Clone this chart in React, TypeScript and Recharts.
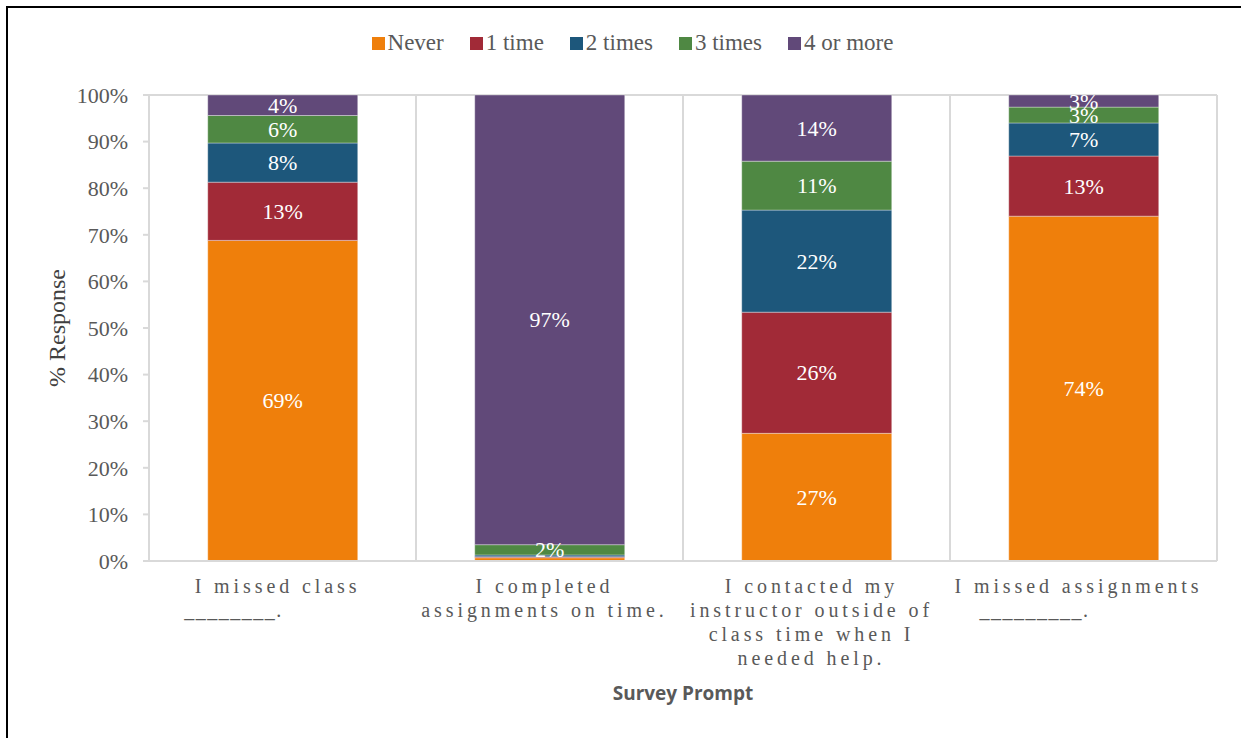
import React from "react";
import {
  BarChart,
  Bar,
  XAxis,
  YAxis,
  CartesianGrid,
  Legend,
  LabelList,
  Label,
} from "recharts";

// survey prompts (line breaks as drawn under the axis)
const prompts = [
  "I missed class\n________.",
  "I completed\nassignments on time.",
  "I contacted my\ninstructor outside of\nclass time when I\nneeded help.",
  "I missed assignments\n_________.",
];

// % response per answer, one value per prompt
const never = [68.8, 0.7, 27.4, 74.0];
const oneTime = [12.5, 0.2, 26.0, 12.9];
const twoTimes = [8.4, 0.4, 21.9, 7.1];
const threeTimes = [5.9, 2.2, 10.5, 3.4];
const fourOrMore = [4.4, 96.5, 14.2, 2.6];

const yTicks = [0, 10, 20, 30, 40, 50, 60, 70, 80, 90, 100];

const series = [
  { key: "never", name: "Never", color: "#EF7F0B", values: never },
  { key: "one", name: "1 time", color: "#A12A37", values: oneTime },
  { key: "two", name: "2 times", color: "#1D577B", values: twoTimes },
  { key: "three", name: "3 times", color: "#4F8843", values: threeTimes },
  { key: "four", name: "4 or more", color: "#614979", values: fourOrMore },
];

const data = prompts.map((p, i) => {
  const row: any = { prompt: p };
  series.forEach((s) => (row[s.key] = s.values[i]));
  return row;
});

const SERIF = "'Liberation Serif', 'Times New Roman', serif";
const GRID = "#d9d9d9";

const PromptTick = (props: any) => {
  const { x, y, payload } = props;
  const lines = String(payload.value).split("\n");
  return (
    <g>
      {lines.map((line, i) => (
        <text
          key={i}
          x={x + (line.startsWith("_") ? -49 : -5)}
          y={y + 32 + i * 24}
          textAnchor="middle"
          fill="#595959"
          fontFamily={SERIF}
          fontSize={20}
          letterSpacing={line.startsWith("_") ? 1.5 : 3.9}
        >
          {line}
        </text>
      ))}
    </g>
  );
};

const SegmentLabel = (props: any) => {
  const { x, y, width, height, value } = props;
  if (value < 1.5) return null;
  return (
    <text
      x={x + width / 2}
      y={y + height / 2}
      textAnchor="middle"
      dominantBaseline="central"
      fill="#ffffff"
      fontFamily={SERIF}
      fontSize={22}
    >
      {`${Math.round(value)}%`}
    </text>
  );
};

const LegendContent = () => (
  <div
    style={{
      display: "flex",
      justifyContent: "center",
      alignItems: "center",
      gap: 26,
      fontFamily: SERIF,
      fontSize: 23,
      color: "#595959",
      paddingLeft: 24,
    }}
  >
    {series.map((s) => (
      <div key={s.key} style={{ display: "flex", alignItems: "center" }}>
        <span
          style={{
            display: "inline-block",
            width: 13,
            height: 13,
            background: s.color,
            marginRight: 3,
          }}
        />
        <span>{s.name}</span>
      </div>
    ))}
  </div>
);

export default function App() {
  return (
    <div
      style={{
        position: "absolute",
        left: 0,
        top: 0,
        width: 1241,
        height: 738,
        background: "#fff",
        overflow: "hidden",
      }}
    >
      <div
        style={{
          position: "absolute",
          left: 6,
          top: 6,
          width: 1235,
          height: 732,
          borderTop: "2px solid #000",
          borderLeft: "2px solid #000",
          boxSizing: "border-box",
        }}
      />
      <div style={{ position: "absolute", left: 0, top: 0 }}>
        <BarChart
          width={1241}
          height={738}
          data={data}
          margin={{ top: 95, right: 24, bottom: 27, left: 0 }}
          barCategoryGap="22%"
        >
          <CartesianGrid
            stroke={GRID}
            strokeWidth={2}
            horizontalCoordinatesGenerator={({ offset }: any) => [offset.top]}
            verticalCoordinatesGenerator={({ offset }: any) =>
              [1, 2, 3, 4].map((i) => offset.left + (i * offset.width) / prompts.length)
            }
          />
          <XAxis
            dataKey="prompt"
            height={150}
            tickLine={false}
            tickSize={0}
            tickMargin={0}
            axisLine={{ stroke: GRID, strokeWidth: 2 }}
            tick={<PromptTick />}
            interval={0}
          >
            <Label
              value="Survey Prompt"
              position="insideBottom"
              offset={11}
              fill="#595959"
              fontFamily="'Open Sans', sans-serif"
              fontWeight="bold"
              fontSize={19}
            />
          </XAxis>
          <YAxis
            width={149}
            domain={[0, 100]}
            ticks={yTicks}
            tickFormatter={(v) => `${v}%`}
            tickSize={6}
            tickMargin={15}
            tickLine={{ stroke: GRID, strokeWidth: 2 }}
            axisLine={{ stroke: GRID, strokeWidth: 2 }}
            tick={{ fill: "#595959", fontFamily: SERIF, fontSize: 22 }}
          >
            <Label
              content={({ viewBox }: any) => (
                <text
                  x={viewBox.x + 57}
                  y={viewBox.y + viewBox.height / 2}
                  transform={`rotate(-90, ${viewBox.x + 57}, ${viewBox.y + viewBox.height / 2})`}
                  textAnchor="middle"
                  dominantBaseline="central"
                  fill="#404040"
                  fontFamily={SERIF}
                  fontSize={24}
                >
                  % Response
                </text>
              )}
            />
          </YAxis>
          <Legend
            verticalAlign="middle"
            align="center"
            layout="horizontal"
            wrapperStyle={{ top: 30, left: 0, width: 1241 }}
            content={<LegendContent />}
          />
          {series.map((s) => (
            <Bar
              key={s.key}
              dataKey={s.key}
              name={s.name}
              stackId="a"
              fill={s.color}
              stroke="#ffffff"
              strokeOpacity={0.35}
              strokeWidth={1}
              isAnimationActive={false}
            >
              <LabelList dataKey={s.key} content={<SegmentLabel />} />
            </Bar>
          ))}
        </BarChart>
      </div>
    </div>
  );
}
